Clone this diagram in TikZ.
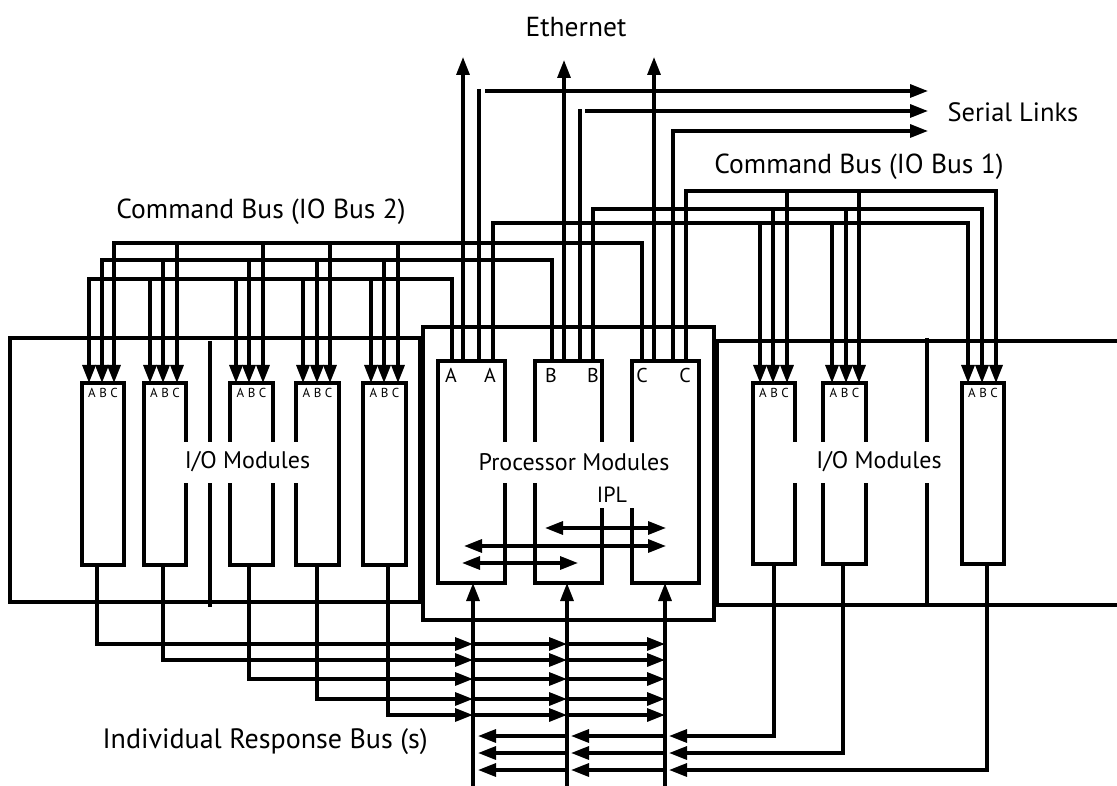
\documentclass[tikz,border=0pt]{standalone}
\usepackage{fontspec}
\setmainfont{PT Sans}
\usetikzlibrary{arrows.meta,calc}
\begin{document}
\begin{tikzpicture}[x=1pt,y=-1pt,line width=3.2pt,
  tri/.style={-{Triangle[length=18pt,width=13pt]}},
  dtri/.style={{Triangle[length=18pt,width=13pt]}-{Triangle[length=18pt,width=13pt]}},
  modbox/.style={draw,line width=3.2pt,minimum width=42pt,minimum height=182pt,anchor=north west,inner sep=0pt,outer sep=0pt},
  procbox/.style={draw,line width=3.2pt,minimum width=67pt,minimum height=222pt,anchor=north west,inner sep=0pt,outer sep=0pt},
  abc/.style={font=\fontsize{13}{13}\selectfont,inner sep=0pt},
  port/.style={font=\fontsize{20}{20}\selectfont,inner sep=0pt},
  big/.style={font=\fontsize{27.5}{27.5}\selectfont,inner sep=0pt},
  modlabel/.style={font=\fontsize{24}{24}\selectfont,inner sep=0pt},
  cover/.style={fill=white,draw=none,inner sep=0pt,minimum height=41pt},
]
\useasboundingbox (0,0) rectangle (1117,786);

% outer cabinets
\draw (10,338) rectangle (420,602);
\draw (423,327) rectangle (714,620);
\draw (1122,341) -- (717,341) -- (717,605) -- (1122,605);
\draw (210,341) -- (210,607);
\draw (927,338) -- (927,603);

% I/O modules
\node[modbox] (L1) at (82,383) {};
\node[modbox] (L2) at (144,383) {};
\node[modbox,minimum width=43pt] (L3) at (230,383) {};
\node[modbox,minimum width=43pt] (L4) at (296,383) {};
\node[modbox,minimum width=43pt] (L5) at (363,383) {};
\node[modbox,minimum height=181pt] (R1) at (753,383) {};
\node[modbox,minimum width=43pt,minimum height=181pt] (R2) at (823,383) {};
\node[modbox,minimum height=181pt] (R3) at (962,383) {};
\foreach \m in {L1,L2,L3,L4,L5,R1,R2,R3}
  \node[abc] (\m t) at ($(\m.north)+(0,10)$) {A B C};

% processor modules
\node[procbox] (PA) at (438,361) {};
\node[procbox] (PB) at (535,361) {};
\node[procbox] (PC) at (632,361) {};
\node[port] (pa1) at (451,375) {A};
\node[port] (pa2) at (490,375) {A};
\node[port] (pb1) at (551,375) {B};
\node[port] (pb2) at (593,375) {B};
\node[port] (pc1) at (642,375) {C};
\node[port] (pc2) at (685,375) {C};

% Command Bus (IO Bus 2)
\draw[tri] (452,0 |- PA.north) -- (452,279) -| (89,0 |- L1.north);
\draw[tri] (552,0 |- PB.north) -- (552,260) -| (102,0 |- L1.north);
\draw[tri] (642,0 |- PC.north) -- (642,243) -| (114,0 |- L1.north);
\foreach \m/\xa/\xb/\xc in {L2/150/163/177,L3/236/249/263,L4/303/317/330,L5/371/384/398}{
  \draw[tri] (\xa,279) -- (\xa,0 |- \m.north);
  \draw[tri] (\xb,260) -- (\xb,0 |- \m.north);
  \draw[tri] (\xc,243) -- (\xc,0 |- \m.north);
}
% Command Bus (IO Bus 1)
\draw[tri] (493,0 |- PA.north) -- (493,223) -| (968,0 |- R3.north);
\draw[tri] (593,0 |- PB.north) -- (593,209) -| (982,0 |- R3.north);
\draw[tri] (686,0 |- PC.north) -- (686,191) -| (996,0 |- R3.north);
\foreach \m/\xa/\xb/\xc in {R1/760/773/787,R2/832/846/859}{
  \draw[tri] (\xa,223) -- (\xa,0 |- \m.north);
  \draw[tri] (\xb,209) -- (\xb,0 |- \m.north);
  \draw[tri] (\xc,191) -- (\xc,0 |- \m.north);
}

% Ethernet
\coordinate (e1) at (463,57);
\coordinate (e2) at (564,60);
\coordinate (e3) at (654,57);
\draw[tri] (463,0 |- PA.north) -- (e1);
\draw[tri] (564,0 |- PB.north) -- (e2);
\draw[tri] (654,0 |- PC.north) -- (e3);

% Serial links
\coordinate (s1) at (928,91);
\coordinate (s2) at (928,111);
\coordinate (s3) at (928,131);
\draw (479,0 |- PA.north) -- (479,89);
\draw[tri] (485,91) -- (s1);
\draw (580,0 |- PB.north) -- (580,109);
\draw[tri] (585,111) -- (s2);
\draw[tri] (673,0 |- PC.north) |- (s3);

% IPL
\draw[dtri] (545,528) -- (666,528);
\draw[dtri] (464,546) -- (666,546);
\draw[dtri] (462,563) -- (578,563);

% Response buses into processors
\coordinate (ra) at (473,790);
\coordinate (rb) at (567,790);
\coordinate (rc) at (665,790);
\draw[tri] (ra) -- (ra |- PA.south);
\draw[tri] (rb) -- (rb |- PB.south);
\draw[tri] (rc) -- (rc |- PC.south);

\foreach \m/\x/\y in {L1/97/644,L2/163/660,L3/249/679,L4/317/699,L5/388/715}{
  \draw[tri] (\x,0 |- \m.south) |- (473,\y);
  \draw[tri] (473,\y) -- (567,\y);
  \draw[tri] (567,\y) -- (665,\y);
}
\foreach \m/\x/\y in {R1/774/736,R2/843/753,R3/987/770}{
  \draw[tri] (\x,0 |- \m.south) |- (669,\y);
  \draw[tri] (665,\y) -- (571,\y);
  \draw[tri] (567,\y) -- (478,\y);
}

% labels with white backgrounds
\node[cover,minimum width=131pt] (cL) at (247.5,462.5) {};
\node[modlabel] (ioL) at (247.5,462) {I/O Modules};
\node[cover,minimum width=168pt] (cR) at (875,462.5) {};
\node[modlabel] (ioR) at (879,462) {I/O Modules};
\node[cover,minimum width=198pt] (cP) at (574,462.5) {};
\node[modlabel] (pm) at (574,462) {Processor Modules};
\node[cover,minimum width=40pt,minimum height=25pt] (cI) at (616,495) {};
\node[font=\fontsize{22}{22}\selectfont,inner sep=0pt] (ipl) at (612,495) {IPL};

\node[big] (eth) at (576,27) {Ethernet};
\node[big,font=\fontsize{26.5}{26.5}\selectfont,anchor=west] (ser) at (946,112) {Serial Links};
\node[big] (cb2) at (261,212) {Command Bus (IO Bus 2)};
\node[big] (cb1) at (859,167) {Command Bus (IO Bus 1)};
\node[big,font=\fontsize{28}{28}\selectfont,anchor=west] (irb) at (101,742) {Individual Response Bus (s)};
\end{tikzpicture}
\end{document}
